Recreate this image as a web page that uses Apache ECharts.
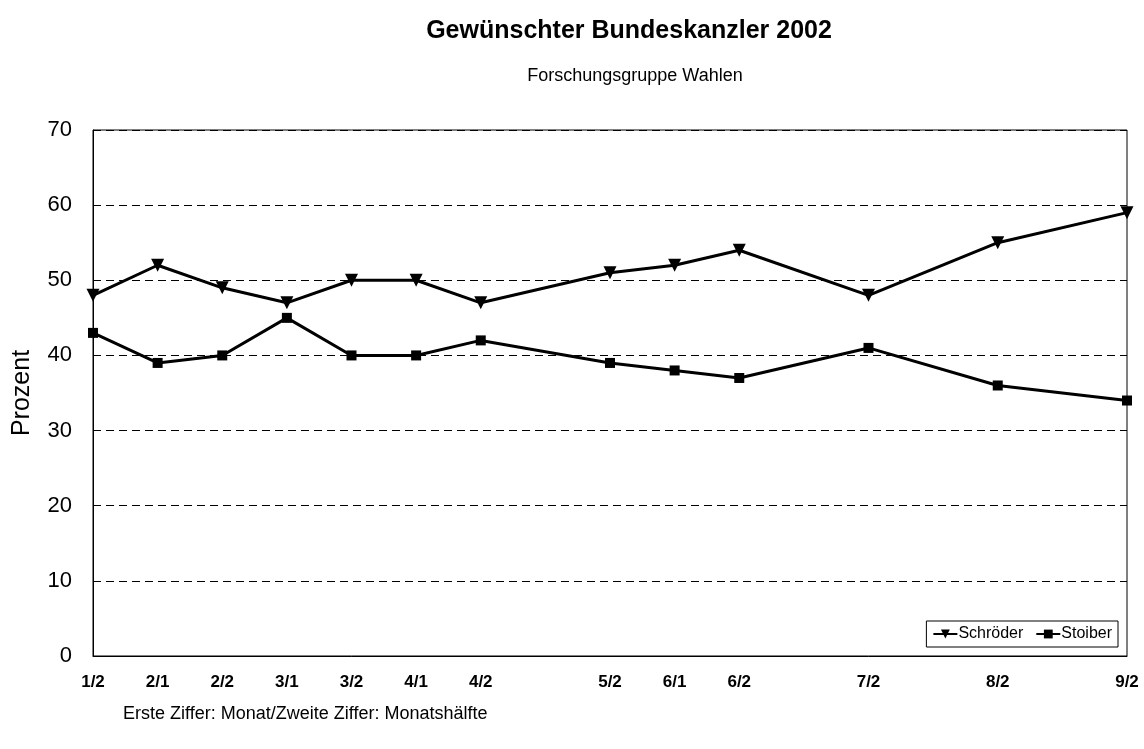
<!DOCTYPE html>
<html>
<head>
<meta charset="utf-8">
<script src="https://cdn.jsdelivr.net/npm/echarts@6/dist/echarts.min.js"></script>
<style>
    html, body { margin: 0; padding: 0; background: #fff; }
    #chart { width: 1144px; height: 749px; }
</style>
</head>
<body>
<div id="chart"></div>
<script>
    // Umfragetermine: Monat/Monatshälfte
    var categories = ['1/2','2/1','2/2','3/1','3/2','4/1','4/2','5/2','6/1','6/2','7/2','8/2','9/2']
    var schroeder = [48, 52, 49, 47, 50, 50, 47, 51, 52, 54, 48, 55, 59]
    var stoiber   = [43, 39, 40, 45, 40, 40, 42, 39, 38, 37, 41, 36, 34]
    var yTicks = [0, 10, 20, 30, 40, 50, 60, 70]

    // Position in Monatshälften ab 1/2
    function halfIndex(c) {
        var p = c.split('/')
        return (parseInt(p[0]) - 1) * 2 + parseInt(p[1]) - 2
    }
    var xPos = categories.map(halfIndex)
    var labelAt = {}
    categories.forEach(function (c, i) { labelAt[xPos[i]] = c })

    var font = '"Liberation Sans", Arial, sans-serif'
    var chart = echarts.init(document.getElementById('chart'))
    chart.setOption({
        animation: false,
        textStyle: { fontFamily: font, color: '#000' },
        title: [{
            text: 'Gewünschter Bundeskanzler 2002',
            left: 624, top: 14, textAlign: 'center',
            textStyle: { fontSize: 25, fontWeight: 'bold', color: '#000', fontFamily: font }
        }, {
            text: 'Forschungsgruppe Wahlen',
            left: 630, top: 62, textAlign: 'center',
            textStyle: { fontSize: 18, fontWeight: 'normal', color: '#000', fontFamily: font }
        }],
        grid: {
            left: 93, right: 17, top: 130, bottom: 93,
            show: true, borderColor: '#000', borderWidth: 1
        },
        legend: {
            right: 26, bottom: 102,
            orient: 'horizontal',
            borderColor: '#000', borderWidth: 1, borderRadius: 0,
            padding: [5, 6, 5, 6],
            itemGap: 12, itemWidth: 24, itemHeight: 11,
            textStyle: { fontSize: 16, color: '#000', fontFamily: font, padding: [0, 0, 0, -4] },
            data: ['Schröder', 'Stoiber']
        },
        xAxis: {
            type: 'value', min: 0, max: 16, interval: 1,
            axisLine: { show: true, lineStyle: { color: '#000', width: 1 } },
            axisTick: { show: false },
            splitLine: { show: false },
            axisLabel: {
                margin: 18, fontSize: 17, fontWeight: 'bold', color: '#000', fontFamily: font,
                showMinLabel: true, showMaxLabel: true,
                formatter: function (v) { return labelAt[v] || '' }
            }
        },
        yAxis: {
            type: 'value', min: yTicks[0], max: yTicks[yTicks.length - 1], interval: 10,
            name: 'Prozent', nameLocation: 'middle', nameGap: 58, nameRotate: 90,
            nameTextStyle: { fontSize: 25, color: '#000', fontFamily: font },
            axisLine: { show: true, lineStyle: { color: '#000', width: 1 } },
            axisTick: { show: false },
            splitLine: { show: true, lineStyle: { color: '#000', width: 1, type: [8, 5] } },
            axisLabel: { margin: 21, fontSize: 22, color: '#000', fontFamily: font }
        },
        series: [{
            name: 'Schröder', type: 'line',
            data: xPos.map(function (x, i) { return [x, schroeder[i]] }),
            symbol: 'triangle', symbolRotate: 180, symbolSize: 13,
            lineStyle: { color: '#000', width: 3 },
            itemStyle: { color: '#000' }
        }, {
            name: 'Stoiber', type: 'line',
            data: xPos.map(function (x, i) { return [x, stoiber[i]] }),
            symbol: 'rect', symbolSize: 10,
            lineStyle: { color: '#000', width: 3 },
            itemStyle: { color: '#000' }
        }],
        graphic: [{
            type: 'text', left: 123, top: 705,
            style: {
                text: 'Erste Ziffer: Monat/Zweite Ziffer: Monatshälfte',
                font: '18px ' + font, fill: '#000'
            }
        }]
    })
</script>
</body>
</html>
